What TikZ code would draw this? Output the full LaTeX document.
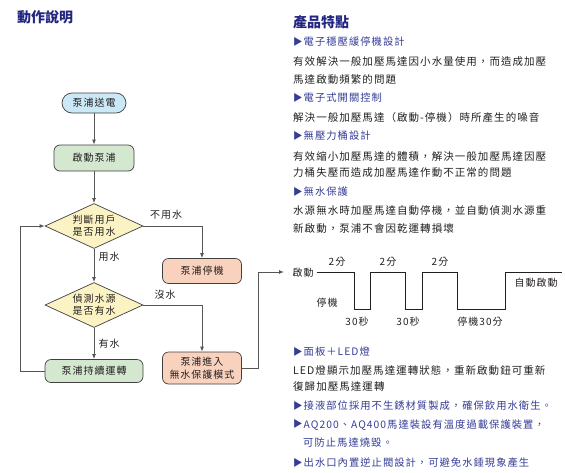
\documentclass[tikz,border=0pt]{standalone}
\usepackage{fontspec}
\setmainfont{Noto Sans CJK TC}
\newfontfamily\spacedfont{Noto Sans CJK TC}[LetterSpace=10]
\usetikzlibrary{arrows.meta, positioning, shapes.geometric, calc}
\definecolor{ttlBlue}{RGB}{34,38,128}
\definecolor{hdBlue}{RGB}{52,60,150}
\definecolor{txtDark}{RGB}{35,31,32}
\definecolor{lineGray}{RGB}{85,85,85}
\definecolor{boxBlue}{RGB}{203,232,246}
\definecolor{boxGreen}{RGB}{212,232,207}
\definecolor{boxYellow}{RGB}{251,243,196}
\definecolor{boxSalmon}{RGB}{249,210,190}
\newcommand{\mk}{\raisebox{0.6pt}{\fontsize{9.5}{10}\selectfont ▶}\hspace{1pt}}

\begin{document}
\begin{tikzpicture}[x=1pt, y=-1pt,
    fbox/.style={draw=black!75, line width=0.7pt, fill=#1, rounded corners=6pt,
                 align=center, inner sep=0pt, text=txtDark,
                 font=\spacedfont\fontsize{10}{13}\selectfont},
    dec/.style={diamond, aspect=2.2, draw=black!75, line width=0.7pt,
                fill=boxYellow, inner sep=0pt, minimum width=98pt,
                minimum height=45pt, align=center, text=txtDark,
                font=\spacedfont\fontsize{10}{12}\selectfont},
    arr/.style={-{Latex[length=5pt,width=4pt]}, line width=1pt, draw=lineGray},
    lbl/.style={text=txtDark, inner sep=0pt, font=\spacedfont\fontsize{10}{12}\selectfont},
    ttl/.style={anchor=west, inner sep=0pt, text=ttlBlue,
                font=\bfseries\fontsize{14}{16}\selectfont},
    head/.style={anchor=west, inner sep=0pt, text=hdBlue,
                 font=\spacedfont\fontsize{10.3}{12}\selectfont},
    body/.style={anchor=west, inner sep=0pt, text=txtDark,
                 font=\spacedfont\fontsize{10.5}{12}\selectfont}]
\useasboundingbox (0,0) rectangle (565,472);

% FLOW CHART
\node[ttl] (ttlL) at (17,17) {動作說明};
\node[fbox=boxBlue, minimum width=64pt, minimum height=20pt,
      rounded corners=10pt] (power) at (94,103) {泵浦送電};
\node[fbox=boxGreen, minimum width=80pt, minimum height=26pt] (start) at (94,158) {啟動泵浦};
\node[dec] (useq) at (94,226) {判斷用戶\\是否用水};
\node[fbox=boxSalmon, minimum width=79pt, minimum height=25pt] (stop) at (202,271) {泵浦停機};
\node[dec] (waterq) at (94,305) {偵測水源\\是否有水};
\node[fbox=boxSalmon, minimum width=79pt, minimum height=32pt] (protect) at (202,368)
   {泵浦進入\\無水保護模式};
\node[fbox=boxGreen, minimum width=98pt, minimum height=23pt] (run) at (94,371) {泵浦持續運轉};

\node[lbl] (lNo) at (166,215) {不用水};
\node[lbl] (lYes) at (109,257) {用水};
\node[lbl] (lDry) at (165,295) {沒水};
\node[lbl] (lWet) at (109,344) {有水};

\draw[arr] (power) -- (start);
\draw[arr] (start) -- (useq);
\draw[arr] (useq.east) -| (stop.north);
\draw[arr] (useq) -- (waterq);
\draw[arr] (waterq.east) -| (protect.north);
\draw[arr] (waterq) -- (run);
\coordinate (loopL) at (20,371);
\draw[arr] (run.west) -- (loopL) |- (useq.west);
\coordinate (bendR) at (258,368);
\coordinate (waveIn) at (284,272);
\draw[arr] (protect.east) -- (bendR) |- (waveIn);

% TIMING
\node[lbl] (on) at (303,273) {啟動};
\draw[line width=0.9pt, draw=txtDark] (317,272) -- (354,272) -- (354,309) -- (370,309)
   -- (370,272) -- (405,272) -- (405,309) -- (422,309) -- (422,272) -- (457,272)
   -- (457,309) -- (505,309) -- (505,272) -- (562,272);
\foreach \x [count=\i] in {337,388,440}
   \node[lbl] (min\i) at (\x,262) {2分};
\node[lbl] (off) at (327,303) {停機};
\node[lbl] (sec1) at (357,322) {30秒};
\node[lbl] (sec2) at (408,322) {30秒};
\node[lbl] (off30) at (480,322) {停機30分};
\node[lbl] (auto) at (536,283) {自動啟動};

% FEATURES
\node[ttl] (ttlR) at (293,22) {產品特點};
\foreach \y/\t in {42/電子穩壓緩停機設計, 98/電子式開關控制, 136/無壓力桶設計,
                   192/無水保護, 352/面板＋LED燈,
                   406/接液部位採用不生銹材質製成，確保飲用水衛生。,
                   425/AQ200、AQ400馬達裝設有溫度過載保護裝置，,
                   463/出水口內置逆止閥設計，可避免水錘現象產生}
   \node[head] at (293,\y) {\mk\t};
\node[head] at (303,443) {可防止馬達燒毀。};
\foreach \y/\t in {62/有效解決一般加壓馬達因小水量使用，而造成加壓,
                   80/馬達啟動頻繁的問題,
                   118/解決一般加壓馬達（啟動-停機）時所產生的噪音,
                   157/有效縮小加壓馬達的體積，解決一般加壓馬達因壓,
                   173/力桶失壓而造成加壓馬達作動不正常的問題,
                   210/水源無水時加壓馬達自動停機，並自動偵測水源重,
                   228/新啟動，泵浦不會因乾運轉損壞,
                   370/LED燈顯示加壓馬達運轉狀態，重新啟動鈕可重新,
                   387/復歸加壓馬達運轉}
   \node[body] at (303-10,\y) {\t};

\end{tikzpicture}
\end{document}
